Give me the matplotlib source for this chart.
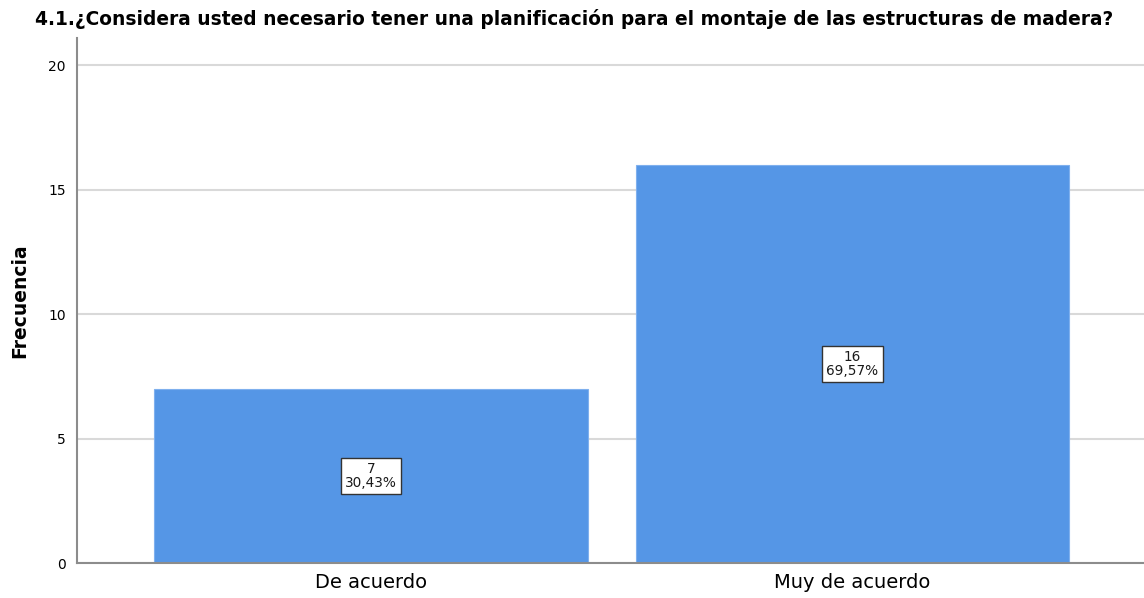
import matplotlib.pyplot as plt

categorias = ['De acuerdo', 'Muy de acuerdo']
frecuencias = [7, 16]
porcentajes = ['30,43%', '69,57%']
yticks = [0, 5, 10, 15, 20]

plt.rcParams['font.family'] = ['DejaVu Sans']

fig = plt.figure(figsize=(11.44, 5.98), dpi=100)
ax = fig.add_axes([0.0673, 0.0585, 0.9327, 0.878])

pos = range(len(categorias))
ax.bar(pos, frecuencias, width=0.9, color='#5596e6', edgecolor='#7fb0ee',
       linewidth=0.8, zorder=2)

# etiquetas de frecuencia y porcentaje en el centro de cada barra
for x, f, p in zip(pos, frecuencias, porcentajes):
    ax.text(x, f / 2, f'{f}\n{p}', ha='center', va='center', fontsize=9.8,
            color='#1a1a1a', linespacing=1.0, zorder=3,
            bbox=dict(boxstyle='square,pad=0.3', facecolor='white',
                      edgecolor='#333333', linewidth=1))

ax.set_xlim(-0.61, 1.605)
ax.set_ylim(0, 21.1)
ax.set_yticks(yticks)
ax.set_xticks(list(pos))
ax.set_xticklabels(categorias, fontsize=14)
ax.tick_params(axis='y', labelsize=10, length=0, pad=8)
ax.tick_params(axis='x', length=0, pad=7)
ax.grid(axis='y', color='#d9d9d9', linewidth=1.5, zorder=0)
ax.set_axisbelow(True)

for s in ['top', 'right']:
    ax.spines[s].set_visible(False)
for s in ['left', 'bottom']:
    ax.spines[s].set_color('#8c8c8c')
    ax.spines[s].set_linewidth(1.5)

ax.set_ylabel('Frecuencia', fontsize=13.5, fontweight='bold', labelpad=14)
fig.text(0.502, 0.968, '4.1.¿Considera usted necesario tener una planificación para el montaje de las estructuras de madera?',
         ha='center', va='center', fontsize=13.4, fontweight='bold')

fig.savefig('out.png', dpi=100)
